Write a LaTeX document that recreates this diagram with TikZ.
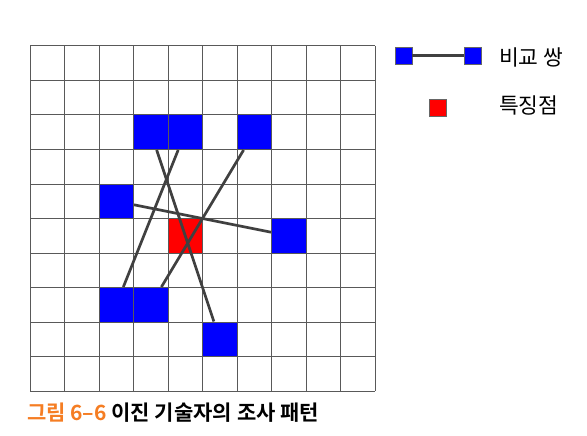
\documentclass[tikz,border=0pt]{standalone}
\usepackage{fontspec}
\newfontfamily\krfont{Noto Sans CJK KR}
\newfontfamily\krbold{Noto Sans CJK KR Bold}
\definecolor{caporange}{RGB}{245,125,35}
\tikzset{
  gridline/.style={draw=black!65, line width=1pt},
  cellbox/.style={minimum size=34.5pt, inner sep=0pt, draw=black!65, line width=1pt},
  pairbox/.style={cellbox, fill=blue},
  keybox/.style={cellbox, fill=red},
  legbox/.style={minimum size=17pt, inner sep=0pt, draw=black!60, line width=0.6pt},
  pairline/.style={draw=black!75, line width=2.7pt},
  legtext/.style={anchor=west, inner sep=0pt, font=\krfont\fontsize{21.5}{21.5}\selectfont},
}
\begin{document}
\begin{tikzpicture}[x=1pt, y=-1pt]
    \useasboundingbox (0,0) rectangle (587,436);
    % the 10 x 10 patch, one unit = one cell
    \begin{scope}[shift={(30,46)}, x=34.5pt, y=-34.5pt]
        \foreach \i in {0,...,10} {
            \draw[gridline] (\i,0) -- (\i,10);
            \draw[gridline] (0,\i) -- (10,\i);
        }
        \node[keybox] (kp) at (4.5,5.5) {};
        \node[pairbox] (a1) at (3.5,2.5) {};
        \node[pairbox] (b1) at (5.5,8.5) {};
        \node[pairbox] (a2) at (4.5,2.5) {};
        \node[pairbox] (b2) at (2.5,7.5) {};
        \node[pairbox] (a3) at (6.5,2.5) {};
        \node[pairbox] (b3) at (3.5,7.5) {};
        \node[pairbox] (a4) at (2.5,4.5) {};
        \node[pairbox] (b4) at (7.5,5.5) {};
        % sampling pairs, over the key point
        \foreach \n in {1,...,4}
            \draw[pairline] (a\n) -- (b\n);
    \end{scope}
    % legend
    \node[legbox, fill=blue] (la) at (403.5,55.5) {};
    \node[legbox, fill=blue] (lb) at (472.5,55.5) {};
    \draw[pairline, line width=2.4pt] (la) -- (lb);
    \node[legtext] (lpair) at (499,57) {비교 쌍};
    \node[legbox, fill=red] (lk) at (437.5,108) {};
    \node[legtext] (lkey) at (499,105) {특징점};
    % caption
    \node[anchor=west, inner sep=0pt, font=\krbold\fontsize{21}{21}\selectfont] (cap) at (27,413)
        {\textcolor{caporange}{그림 6–6} 이진 기술자의 조사 패턴};
\end{tikzpicture}
\end{document}
